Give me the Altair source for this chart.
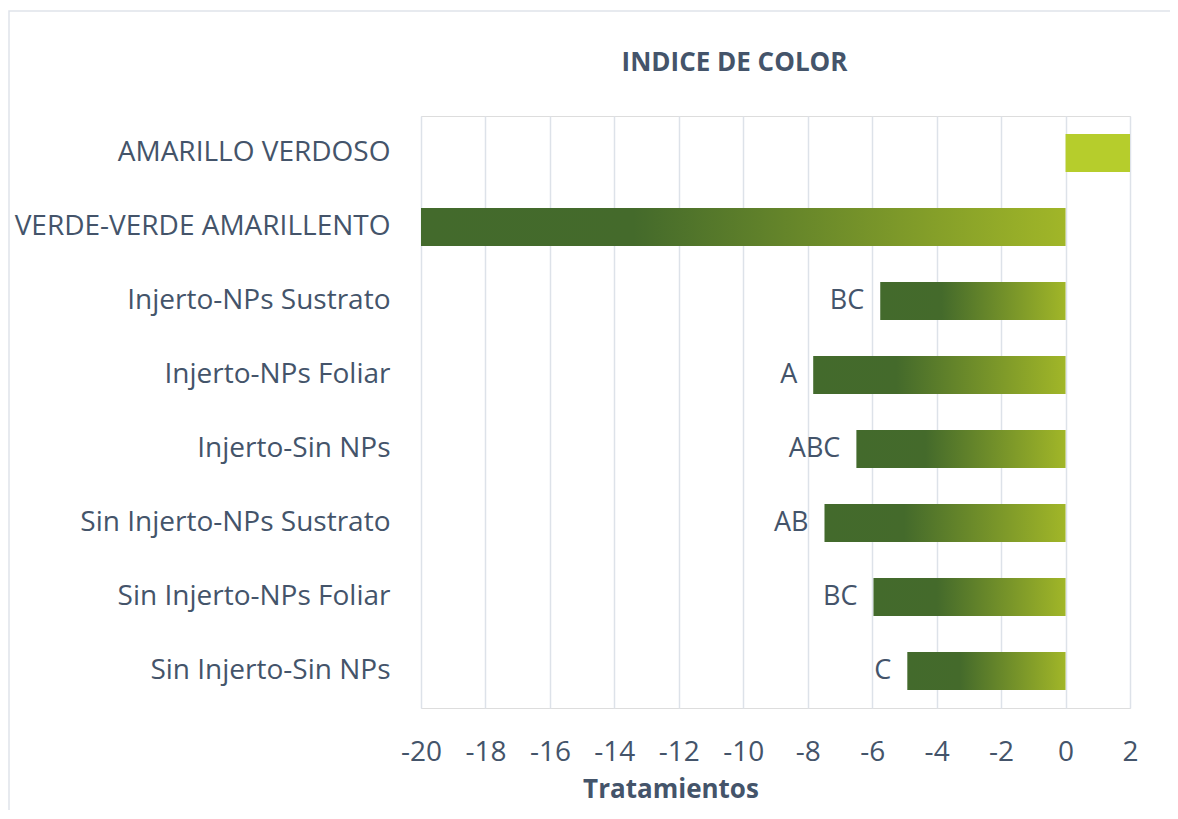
import altair as alt
import pandas as pd

categories = [
    "AMARILLO VERDOSO",
    "VERDE-VERDE AMARILLENTO",
    "Injerto-NPs Sustrato",
    "Injerto-NPs Foliar",
    "Injerto-Sin NPs",
    "Sin Injerto-NPs Sustrato",
    "Sin Injerto-NPs Foliar",
    "Sin Injerto-Sin NPs",
]
values = [2, -20, -5.75, -7.83, -6.49, -7.48, -5.96, -4.91]
letters = ["", "", "BC", "A", "ABC", "AB", "BC", "C"]
x_ticks = list(range(-20, 3, 2))

df = pd.DataFrame({"cat": categories, "val": values, "letter": letters})

TEXT = "#44546a"
FONT = "Open Sans"
GRID = "#dde2e9"

y_enc = alt.Y(
    "cat:N",
    sort=categories,
    title=None,
    scale=alt.Scale(paddingInner=0.486, paddingOuter=0.243),
    axis=alt.Axis(
        labelFontSize=28, labelColor=TEXT, labelFont=FONT, labelPadding=31,
        ticks=False, domain=False, labelLimit=600, grid=False,
    ),
)
x_enc = alt.X(
    "val:Q",
    scale=alt.Scale(domain=[-20, 2], nice=False, zero=False),
    axis=alt.Axis(
        values=x_ticks, title="Tratamientos", labelFontSize=28, labelColor=TEXT,
        labelFont=FONT, labelBaseline="alphabetic", labelPadding=52, tickSize=0,
        ticks=False, domain=False, grid=True, gridColor=GRID, gridWidth=1.5,
        labelExpr="toString(datum.value)",
        titleFont=FONT, titleFontSize=26, titleFontWeight="bold", titleColor=TEXT,
        titleBaseline="alphabetic", titleX=249.5, titleY=89, titleAlign="center",
        labelFlush=False,
    ),
)

gradient = alt.Gradient(
    gradient="linear",
    stops=[
        alt.GradientStop(offset=0, color="#436a2c"),
        alt.GradientStop(offset=0.33, color="#446a2b"),
        alt.GradientStop(offset=1, color="#a1b628"),
    ],
    x1=0, x2=1, y1=0, y2=0,
)

base = alt.Chart(df)

frame = alt.Chart(pd.DataFrame({"a": [0]})).mark_rect(
    fill=None, stroke="#dfe3ea", strokeWidth=1.5
).encode(
    x=alt.value(-412), x2=alt.value(800), y=alt.value(-105), y2=alt.value(720)
)

grad_bars = base.transform_filter(alt.datum.val < 0).mark_bar(
    color=gradient, fill=gradient
).encode(y=y_enc, x=x_enc, x2=alt.datum(0))

solid_bar = base.transform_filter(alt.datum.val > 0).mark_bar(
    color="#b6cd2c"
).encode(y=y_enc, x=x_enc, x2=alt.datum(0))

labels = base.transform_filter(alt.datum.letter != "").mark_text(
    align="right", baseline="middle", dx=-16, fontSize=27, font=FONT, color=TEXT
).encode(y=y_enc, x=x_enc, text="letter:N")

chart = alt.layer(frame, grad_bars, solid_bar, labels).properties(
    width=709,
    height=592,
    padding={"left": 413, "top": 108, "right": 40, "bottom": 102},
    autosize=alt.AutoSizeParams(type="none"),
    title=alt.TitleParams(
        "INDICE DE COLOR", fontSize=26, fontWeight="bold", font=FONT, color=TEXT,
        anchor="middle", dx=-41, offset=-87, baseline="alphabetic",
    ),
).configure_view(strokeWidth=0, stroke="transparent").configure(background="white")

chart.save("out.html", embed_options={"renderer": "svg", "actions": False})
